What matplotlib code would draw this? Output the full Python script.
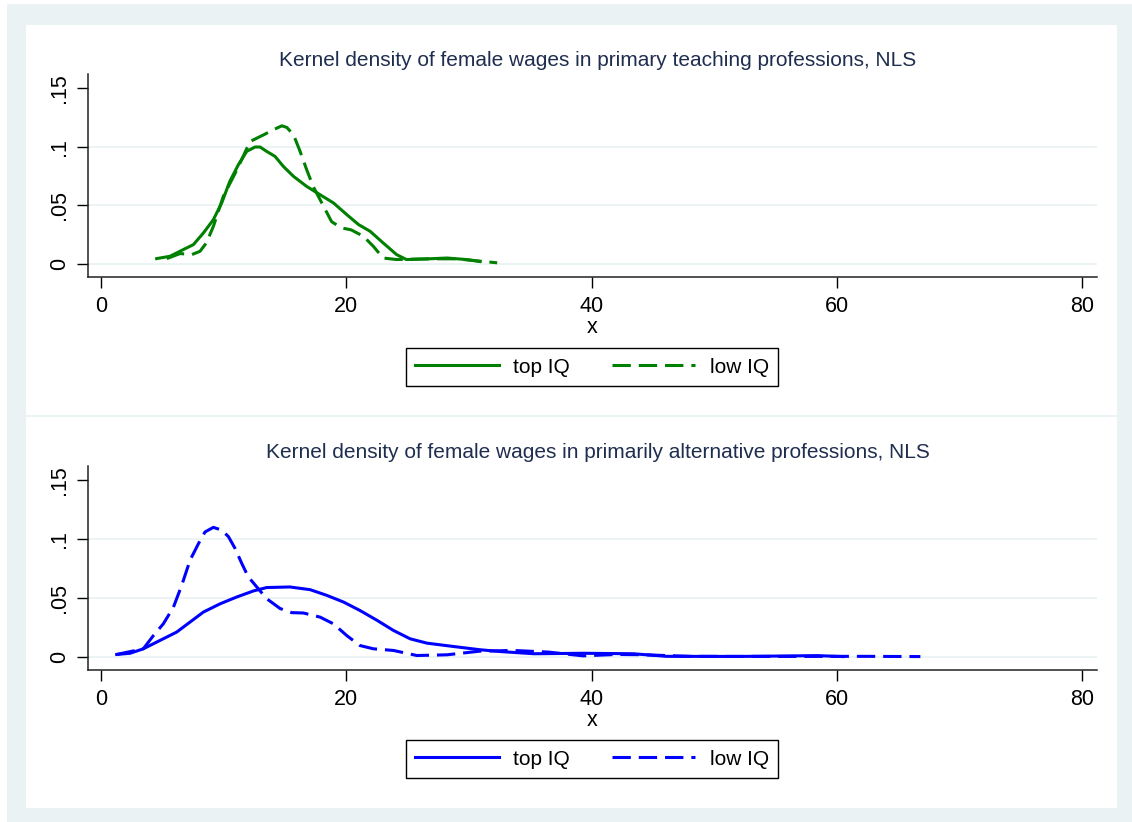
"""Kernel density of female wages, NLS: teaching vs alternative professions."""
import matplotlib
matplotlib.use("Agg")
import matplotlib.pyplot as plt
from matplotlib.patches import Rectangle
from matplotlib.lines import Line2D

plt.rcParams["font.family"] = ["Liberation Sans", "DejaVu Sans"]

# ---- data ----
teach_top_x = [4.54, 5.63, 6.71, 7.53, 8.35, 9.16, 9.84, 10.5, 11.2, 11.88, 12.56, 12.97,
               13.5, 14.19, 14.87, 15.7, 16.78, 17.86, 18.95, 20.04, 21.0, 21.94, 23.0,
               24.1, 24.9, 26.5, 28.2, 29.8, 30.9]
teach_top_y = [0.0045, 0.0065, 0.0122, 0.0164, 0.0264, 0.0377, 0.052, 0.0704, 0.0846,
               0.096, 0.0997, 0.0997, 0.096, 0.0917, 0.0831, 0.0746, 0.066, 0.059, 0.052,
               0.042, 0.0335, 0.0278, 0.0179, 0.0079, 0.0037, 0.0042, 0.005, 0.0037, 0.002]
teach_low_x = [5.36, 6.45, 7.4, 8.07, 8.6, 9.16, 9.97, 11.07, 12.15, 13.24, 14.05, 14.74,
               15.15, 15.7, 16.23, 16.78, 17.3, 18.0, 18.8, 19.6, 20.4, 21.4, 22.2, 23.0,
               24.1, 26.8, 29.0, 32.3]
teach_low_y = [0.0045, 0.0088, 0.0079, 0.0107, 0.018, 0.032, 0.0576, 0.080, 0.1044,
               0.110, 0.1144, 0.1178, 0.1164, 0.110, 0.096, 0.080, 0.066, 0.052, 0.036,
               0.0307, 0.029, 0.0235, 0.015, 0.005, 0.0037, 0.0043, 0.0043, 0.0009]

alt_top_x = [1.28, 2.37, 3.45, 4.81, 6.17, 7.26, 8.35, 9.71, 11.07, 12.42, 13.5, 15.4,
             17.05, 18.4, 19.77, 21.1, 22.5, 23.84, 25.2, 26.57, 28.7, 30.9, 32.5, 35.3,
             39.3, 43.4, 46.1, 52.0, 58.4, 60.5]
alt_top_y = [0.002, 0.003, 0.0068, 0.0139, 0.021, 0.0295, 0.038, 0.045, 0.0508, 0.0559,
             0.0588, 0.0593, 0.057, 0.0522, 0.0465, 0.0394, 0.031, 0.0224, 0.0153, 0.0116,
             0.0088, 0.006, 0.0045, 0.0026, 0.003, 0.0026, 0.0004, 0.0003, 0.001, 0.0002]
alt_low_x = [1.28, 3.45, 4.27, 5.08, 5.9, 6.58, 7.26, 7.94, 8.48, 9.16, 9.84, 10.39,
             10.93, 11.48, 12.0, 12.7, 13.5, 14.6, 15.55, 16.5, 17.86, 18.95, 20.04, 21.1,
             22.2, 23.84, 25.75, 28.2, 30.9, 33.6, 36.5, 39.3, 42.0, 44.0, 48.0, 55.0,
             62.0, 66.8]
alt_low_y = [0.002, 0.0068, 0.018, 0.028, 0.042, 0.0607, 0.082, 0.096, 0.106, 0.1099,
             0.1076, 0.102, 0.092, 0.0792, 0.068, 0.0593, 0.0494, 0.041, 0.0375, 0.0372,
             0.0337, 0.028, 0.018, 0.0096, 0.0068, 0.0054, 0.0011, 0.0017, 0.0048, 0.0054,
             0.004, 0.0008, 0.002, 0.0018, 0.0004, 0.0003, 0.0004, 0.0002]

x_ticks = [0, 20, 40, 60, 80]
y_ticks = [0, 0.05, 0.1, 0.15]
y_tick_labels = ["0", ".05", ".1", ".15"]
y_grid = [0, 0.05, 0.1]
legend_labels = ["top IQ", "low IQ"]

titles = ["Kernel density of female wages in primary teaching professions, NLS",
          "Kernel density of female wages in primarily alternative professions, NLS"]

GREEN = "#008000"
BLUE = "#0000FF"
GRID = "#EAF2F3"
TITLE_C = "#1f2d4f"

W, H = 1132, 822
fig = plt.figure(figsize=(W / 100, H / 100), dpi=100)
fig.patch.set_facecolor("white")


def fx(px):
    return px / W


def fy(py):
    return 1 - py / H


# Stata-like outer frame
fig.patches.append(Rectangle((fx(7), 0), 1 - fx(7), fy(4), transform=fig.transFigure,
                             facecolor=GRID, edgecolor="none", zorder=-2))
fig.patches.append(Rectangle((fx(26), fy(808)), fx(1117 - 26), (808 - 25) / H,
                             transform=fig.transFigure, facecolor="white",
                             edgecolor="none", zorder=-1))
fig.lines.append(Line2D([fx(26), fx(1117)], [fy(416), fy(416)], transform=fig.transFigure,
                        color=GRID, lw=1.2))

panels = [
    (teach_top_x, teach_top_y, teach_low_x, teach_low_y, GREEN, 74, 277, 59, 367),
    (alt_top_x, alt_top_y, alt_low_x, alt_low_y, BLUE, 466, 670, 451, 759),
]

for i, (tx, ty, lx, ly, col, top_px, bot_px, title_py, leg_py) in enumerate(panels):
    ax = fig.add_axes([fx(88), fy(bot_px), fx(1097 - 88), (bot_px - top_px) / H])
    for g in y_grid:
        ax.axhline(g, color=GRID, lw=1.3, zorder=0)
    h1, = ax.plot(tx, ty, color=col, lw=2.2, solid_joinstyle="round",
                  label=legend_labels[0])
    h2, = ax.plot(lx, ly, color=col, lw=2.2, dashes=(6, 2.6), dash_joinstyle="round",
                  label=legend_labels[1])

    ax.set_xlim(-1.06, 81.2)
    ax.set_ylim(-0.0112, 0.162)
    ax.set_xticks(x_ticks)
    ax.set_yticks(y_ticks)
    ax.set_yticklabels(y_tick_labels, rotation=90, va="center")
    ax.tick_params(direction="out", length=8, width=1, colors="black", labelsize=15.5,
                   pad=6)
    ax.tick_params(axis="y", pad=5)
    for s in ["top", "right"]:
        ax.spines[s].set_visible(False)
    for s in ["left", "bottom"]:
        ax.spines[s].set_linewidth(1.1)
        ax.spines[s].set_color("#222222")
    ax.set_xlabel("x", fontsize=15.5, labelpad=0)

    fig.text(fx(597.5), fy(title_py + 1), titles[i], ha="center", va="center",
             fontsize=15, color=TITLE_C)

    leg = fig.legend(handles=[h1, h2], loc="center", bbox_to_anchor=(fx(592), fy(leg_py)),
                     ncol=2, frameon=True, fancybox=False, fontsize=15, handlelength=4.0,
                     columnspacing=2.0, handletextpad=0.7, borderpad=0.45,
                     borderaxespad=0, edgecolor="black", framealpha=1)
    leg.get_frame().set_linewidth(1.0)

fig.savefig("out.png", dpi=100)
